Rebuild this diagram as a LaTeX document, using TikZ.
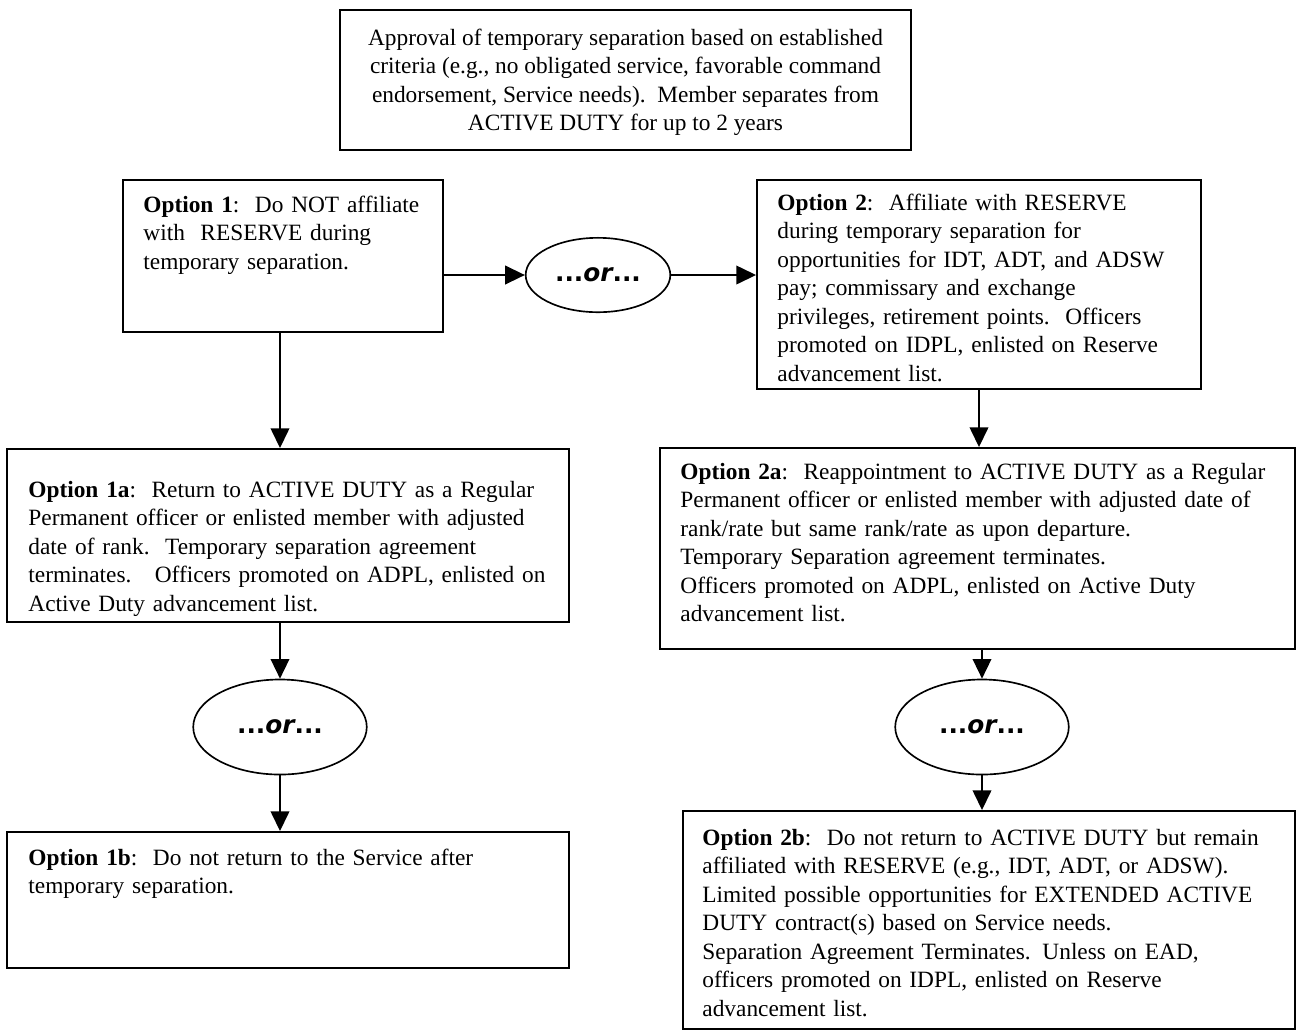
\documentclass[tikz,border=0pt]{standalone}
\usepackage{fontspec}
\setmainfont{Liberation Serif}
\newfontfamily\orfont{DejaVu Sans}
\usetikzlibrary{arrows.meta,fit,shapes.geometric}

\begin{document}
\begin{tikzpicture}[x=0.484pt,y=-0.484pt,>={Triangle[length=9.5pt,width=9pt]},
  font=\fontsize{11.3pt}{13.8pt}\selectfont]
  \tikzstyle{optbox}=[draw, line width=0.95pt, inner sep=0pt]
  \tikzstyle{opttext}=[anchor=base west, align=left, text width=330pt, inner sep=0pt]
  \tikzstyle{orbubble}=[draw, ellipse, line width=0.8pt, inner sep=0pt, fill=white,
    font=\orfont\bfseries\fontsize{12pt}{14pt}\selectfont]
  \tikzstyle{flow}=[->, line width=0.8pt]

  \path[use as bounding box] (0,0) rectangle (1299,1032);

  % Top: approval of the temporary separation.
  \node[optbox, fit={(340,10) (911,150)}] (approval) {};
  \node[align=center, inner sep=0pt] (approvaltext) at ([yshift=-1pt]approval.center)
    {Approval of temporary separation based on established\\
     criteria (e.g., no obligated service, favorable command\\
     endorsement, Service needs).\ \ Member separates from\\
     ACTIVE DUTY for up to 2 years};

  % Option 1 and Option 2, joined by the first ...or...
  \node[optbox, fit={(123,180) (443,332)}] (opt1) {};
  \node[opttext] (opt1text) at (143,212)
    {\textbf{Option 1}:\ \ Do NOT affiliate\\
     with\ \ RESERVE during\\
     temporary separation.};

  \node[optbox, fit={(757,180) (1201,389)}] (opt2) {};
  \node[opttext] (opt2text) at (777,210)
    {\textbf{Option 2}:\ \ Affiliate with RESERVE\\
     during temporary separation for\\
     opportunities for IDT, ADT, and ADSW\\
     pay; commissary and exchange\\
     privileges, retirement points.\ \ Officers\\
     promoted on IDPL, enlisted on Reserve\\
     advancement list.};

  \node[orbubble, minimum width=70pt, minimum height=36pt] (orA) at (598,275) {...\textit{or}...};
  \draw[flow] (orA.west -| opt1.east) -- (orA.west);
  \draw[flow] (orA.east) -- (orA.east -| opt2.west);

  % Left branch: Option 1a ...or... Option 1b.
  \node[optbox, fit={(7,449) (569,622)}] (opt1a) {};
  \node[opttext] (opt1atext) at (28,497)
    {\textbf{Option 1a}:\ \ Return to ACTIVE DUTY as a Regular\\
     Permanent officer or enlisted member with adjusted\\
     date of rank.\ \ Temporary separation agreement\\
     terminates.\ \ \ Officers promoted on ADPL, enlisted on\\
     Active Duty advancement list.};

  \node[orbubble, minimum width=84pt, minimum height=46pt] (orB) at (280,727) {...\textit{or}...};

  \node[optbox, fit={(7,832) (569,968)}] (opt1b) {};
  \node[opttext] (opt1btext) at (28,865)
    {\textbf{Option 1b}:\ \ Do not return to the Service after\\
     temporary separation.};

  \draw[flow] (opt1.south -| orB.north) -- (opt1a.north -| orB.north);
  \draw[flow] (opt1a.south -| orB.north) -- (orB.north);
  \draw[flow] (orB.south) -- (orB.south |- opt1b.north);

  % Right branch: Option 2a ...or... Option 2b.
  \node[optbox, fit={(660,448) (1295,649)}] (opt2a) {};
  \node[opttext] (opt2atext) at (680,479)
    {\textbf{Option 2a}:\ \ Reappointment to ACTIVE DUTY as a Regular\\
     Permanent officer or enlisted member with adjusted date of\\
     rank/rate but same rank/rate as upon departure.\\
     Temporary Separation agreement terminates.\\
     Officers promoted on ADPL, enlisted on Active Duty\\
     advancement list.};

  \node[orbubble, minimum width=84pt, minimum height=46pt] (orC) at (982,727) {...\textit{or}...};

  \node[optbox, fit={(683,811) (1295,1029)}] (opt2b) {};
  \node[opttext] (opt2btext) at (702,845)
    {\textbf{Option 2b}:\ \ Do not return to ACTIVE DUTY but remain\\
     affiliated with RESERVE (e.g., IDT, ADT, or ADSW).\\
     Limited possible opportunities for EXTENDED ACTIVE\\
     DUTY contract(s) based on Service needs.\\
     Separation Agreement Terminates. Unless on EAD,\\
     officers promoted on IDPL, enlisted on Reserve\\
     advancement list.};

  \draw[flow] (opt2.south) -- (opt2.south |- opt2a.north);
  \draw[flow] (opt2a.south -| orC.north) -- (orC.north);
  \draw[flow] (orC.south) -- (orC.south |- opt2b.north);
\end{tikzpicture}
\end{document}
